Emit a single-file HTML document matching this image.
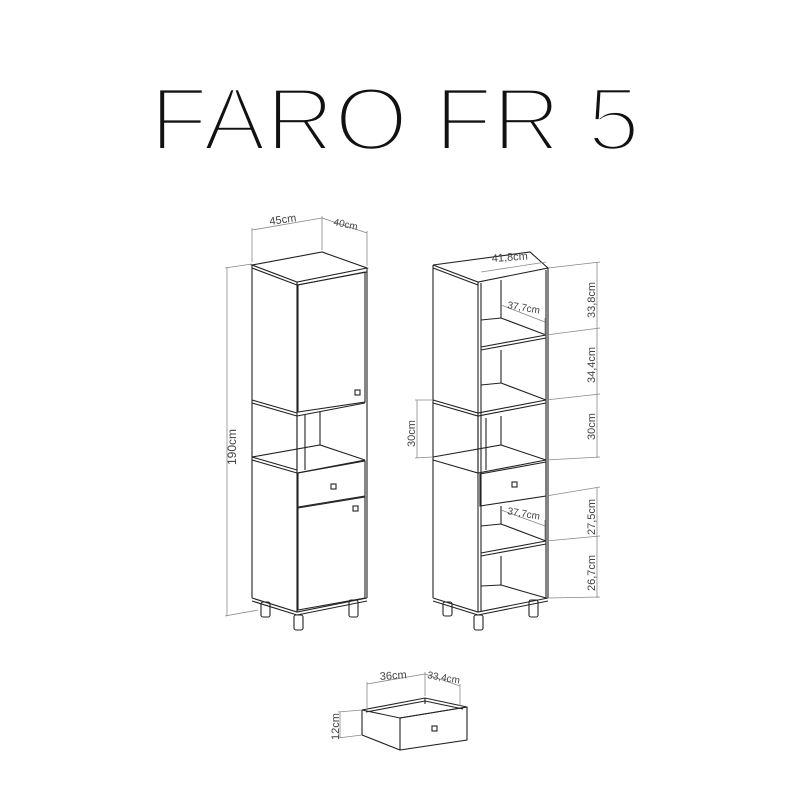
<!DOCTYPE html>
<html><head><meta charset="utf-8"><style>html,body{margin:0;padding:0;background:#fff}svg{display:block}</style></head>
<body>
<svg width="800" height="800" viewBox="0 0 800 800" xmlns="http://www.w3.org/2000/svg" font-family="Liberation Sans, sans-serif">
<rect width="800" height="800" fill="#fff"/>
<text x="150" y="150" font-size="90" textLength="490" lengthAdjust="spacingAndGlyphs" fill="#111" stroke="#fff" stroke-width="4.6" paint-order="fill stroke">FARO FR 5</text>

<g fill="none" stroke="#222" stroke-width="1.1">
<polygon points="252,265 322,252 367,268 297,282"/>
<line x1="252" y1="268" x2="297" y2="285"/>
<line x1="297" y1="285" x2="367" y2="272"/>
<line x1="252" y1="265" x2="252" y2="598"/>
<line x1="297" y1="282" x2="297" y2="612"/>
<line x1="367" y1="268" x2="367" y2="598"/>
<polyline points="252,598 297,612 367,598"/>
<line x1="252" y1="601" x2="297" y2="615"/>
<line x1="297" y1="615" x2="367" y2="601"/>
<polygon points="298,285 365,272 365,402 298,412"/>
<line x1="252" y1="400" x2="297" y2="413"/>
<line x1="252" y1="403" x2="297" y2="416"/>
<line x1="297" y1="416" x2="365" y2="403"/>
<line x1="252" y1="457" x2="297" y2="470"/>
<line x1="252" y1="460" x2="297" y2="473"/>
<line x1="297" y1="473" x2="365" y2="460"/>
<polyline points="252,457 320,445 365,460"/>
<line x1="320" y1="412" x2="320" y2="445"/>
<line x1="297" y1="416" x2="297" y2="470"/>
<line x1="305" y1="415" x2="305" y2="470"/>
<polygon points="298,473 365,461 365,496 298,507"/>
<polygon points="298,508 365,497 365,598 298,610"/>
<rect x="355" y="390" width="5" height="5"/>
<rect x="331" y="484" width="5" height="5"/>
<rect x="353" y="506" width="5" height="5"/>
<rect x="261" y="602" width="9" height="15" rx="2"/>
<rect x="294" y="615" width="9" height="15" rx="2"/>
<rect x="349" y="600" width="9" height="17" rx="2"/>

<polygon points="433,265 530,252 548,268 478,282"/>
<line x1="433" y1="268" x2="478" y2="285"/>
<line x1="433" y1="265" x2="433" y2="598"/>
<line x1="478" y1="282" x2="478" y2="612"/>
<line x1="548" y1="268" x2="548" y2="598"/>
<polyline points="433,598 478,612 548,598"/>
<line x1="433" y1="601" x2="478" y2="615"/>
<line x1="478" y1="615" x2="548" y2="601"/>
<line x1="481" y1="283" x2="481" y2="612"/>
<line x1="546" y1="270" x2="546" y2="598"/>
<line x1="501" y1="280" x2="501" y2="318"/>
<polyline points="481,320 501,318 546,335"/>
<polyline points="481,347 546,335"/>
<polyline points="481,350 546,338"/>
<polyline points="481,385 501,383 546,400"/>
<polyline points="433,400 478,413 546,400"/>
<polyline points="433,403 478,416 546,403"/>
<line x1="501" y1="350" x2="501" y2="383"/>
<line x1="501" y1="416" x2="501" y2="445"/>
<polyline points="433,457 501,445 546,460"/>
<polyline points="433,460 478,473 546,460"/>
<line x1="478" y1="416" x2="478" y2="470"/>
<line x1="486" y1="418" x2="486" y2="470"/>
<polygon points="480,474 546,462 546,496 480,506"/>
<rect x="512" y="482" width="5" height="5"/>
<polyline points="481,526 501,524 546,541"/>
<polyline points="481,553 546,541"/>
<polyline points="481,556 546,544"/>
<polyline points="481,586 501,585 546,598"/>
<line x1="501" y1="506" x2="501" y2="524"/>
<line x1="501" y1="556" x2="501" y2="585"/>
<rect x="443" y="602" width="9" height="14" rx="2"/>
<rect x="474" y="615" width="9" height="15" rx="2"/>
<rect x="529" y="600" width="9" height="17" rx="2"/>

<polyline points="362,710 425,698 467,707"/>
<polyline points="366,712 425,701 463,709"/>
<line x1="425" y1="698" x2="425" y2="704"/>
<polyline points="362,710 400,718 467,707"/>
<line x1="362" y1="710" x2="362" y2="735"/>
<line x1="362" y1="735" x2="400" y2="750"/>
<polygon points="400,718 467,707 467,740 400,750"/>
<rect x="432" y="726" width="5" height="5"/>
</g>

<g fill="none" stroke="#888" stroke-width="0.8">
<line x1="252" y1="230" x2="322" y2="218"/>
<line x1="322" y1="218" x2="367" y2="233"/>
<line x1="252" y1="228" x2="252" y2="262"/>
<line x1="322" y1="216" x2="322" y2="250"/>
<line x1="367" y1="231" x2="367" y2="266"/>
<line x1="227" y1="268" x2="227" y2="616"/>
<line x1="225" y1="268" x2="252" y2="264"/>
<line x1="225" y1="616" x2="258" y2="610"/>
<line x1="481" y1="272" x2="546" y2="262"/>
<line x1="501" y1="305" x2="545" y2="322"/>
<line x1="545" y1="318" x2="545" y2="335"/>
<line x1="501" y1="510" x2="545" y2="526"/>
<line x1="545" y1="520" x2="545" y2="540"/>
<line x1="597" y1="262" x2="597" y2="330"/>
<line x1="597" y1="330" x2="597" y2="395"/>
<line x1="597" y1="395" x2="597" y2="458"/>
<line x1="597" y1="488" x2="597" y2="537"/>
<line x1="597" y1="537" x2="597" y2="598"/>
<line x1="548" y1="268" x2="600" y2="262"/>
<line x1="546" y1="335" x2="600" y2="328"/>
<line x1="546" y1="400" x2="600" y2="394"/>
<line x1="546" y1="460" x2="600" y2="457"/>
<line x1="546" y1="496" x2="600" y2="487"/>
<line x1="546" y1="541" x2="600" y2="536"/>
<line x1="548" y1="598" x2="600" y2="597"/>
<line x1="417" y1="400" x2="417" y2="458"/>
<line x1="415" y1="400" x2="433" y2="400"/>
<line x1="415" y1="458" x2="433" y2="457"/>
<line x1="367" y1="684" x2="425" y2="674"/>
<line x1="425" y1="674" x2="460" y2="686"/>
<line x1="367" y1="682" x2="367" y2="708"/>
<line x1="425" y1="672" x2="425" y2="696"/>
<line x1="460" y1="684" x2="460" y2="706"/>
<line x1="340" y1="712" x2="340" y2="738"/>
<line x1="338" y1="712" x2="362" y2="710"/>
<line x1="338" y1="738" x2="362" y2="735"/>
</g>

<g fill="#444" font-size="11">
<text x="270" y="225" transform="rotate(-8 270 225)">45cm</text>
<text x="333" y="225" transform="rotate(12 333 225)" font-size="10">40cm</text>
<text x="236" y="465" transform="rotate(-90 236 465)" font-size="12">190cm</text>
<text x="492" y="262" transform="rotate(-4 492 262)">41,8cm</text>
<text x="507" y="308" transform="rotate(10 507 308)" font-size="10">37,7cm</text>
<text x="507" y="514" transform="rotate(10 507 514)" font-size="10">37,7cm</text>
<text x="595" y="318" transform="rotate(-90 595 318)">33,8cm</text>
<text x="595" y="383" transform="rotate(-90 595 383)">34,4cm</text>
<text x="595" y="440" transform="rotate(-90 595 440)">30cm</text>
<text x="595" y="535" transform="rotate(-90 595 535)">27,5cm</text>
<text x="595" y="591" transform="rotate(-90 595 591)">26,7cm</text>
<text x="415" y="447" transform="rotate(-90 415 447)">30cm</text>
<text x="380" y="680" transform="rotate(-4 380 680)">36cm</text>
<text x="427" y="678" transform="rotate(10 427 678)" font-size="10">33,4cm</text>
<text x="339" y="740" transform="rotate(-90 339 740)">12cm</text>
</g>
</svg>
</body></html>
